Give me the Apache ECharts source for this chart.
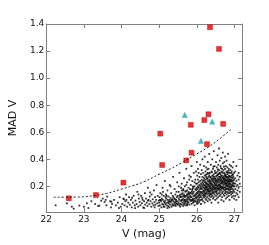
<!DOCTYPE html>
<html><head><meta charset="utf-8">
<script src="https://cdn.jsdelivr.net/npm/echarts@6/dist/echarts.min.js"></script>
<style>html,body{margin:0;padding:0;background:#fff}#c{width:269px;height:245px}</style>
</head><body><div id="c"></div>
<script>
const xTicks = [22, 23, 24, 25, 26, 27];
const yTicks = [0.2, 0.4, 0.6, 0.8, 1.0, 1.2, 1.4];

// variable candidates (red squares): [V, MAD V]
const redV   = [22.60, 23.32, 24.05, 25.03, 25.08, 25.72, 25.84, 25.86, 26.20, 26.27, 26.31, 26.35, 26.59, 26.70];
const redMAD = [0.112, 0.136, 0.228, 0.590, 0.358, 0.392, 0.655, 0.449, 0.690, 0.512, 0.733, 1.376, 1.216, 0.662];

// cyan triangles
const triV   = [25.68, 26.11, 26.41];
const triMAD = [0.730, 0.538, 0.680];

// dashed threshold curve
const curveV   = [22.2, 22.5, 22.8, 23.0, 23.3, 23.6, 24.0, 24.3, 24.6, 25.0, 25.3, 25.6, 26.0, 26.3, 26.6, 26.9];
const curveMAD = [0.120, 0.120, 0.121, 0.124, 0.133, 0.148, 0.180, 0.205, 0.235, 0.290, 0.330, 0.375, 0.440, 0.490, 0.550, 0.620];

// sparse field stars, [V, MAD V]
const fieldSparse = [
 [22.25,0.06],[22.55,0.075],[22.68,0.05],[22.73,0.035],[22.88,0.058],[23.0,0.05],[23.08,0.075],[23.12,0.04],[23.3,0.07],[23.38,0.055],
 [23.41,0.058],[23.46,0.094],[23.5,0.11],[23.55,0.085],[23.6,0.06],[23.62,0.125],[23.7,0.09],[23.73,0.087],[23.75,0.07],[23.8,0.1],
 [23.85,0.06],[23.9,0.08],[23.93,0.04],[23.95,0.12],[23.98,0.05],[23.72,0.045],[23.58,0.1],[23.2,0.09],
 [24.02,0.07],[24.05,0.11],[24.06,0.105],[24.08,0.06],[24.1,0.09],[24.12,0.14],[24.15,0.05],[24.18,0.08],[24.2,0.12],[24.22,0.065],
 [24.25,0.1],[24.27,0.045],[24.3,0.08],[24.32,0.13],[24.35,0.06],[24.37,0.095],[24.4,0.07],[24.42,0.16],[24.44,0.05],[24.46,0.11],
 [24.48,0.085],[24.5,0.06],[24.52,0.13],[24.54,0.075],[24.56,0.1],[24.58,0.045],[24.6,0.09],[24.62,0.15],[24.63,0.065],[24.65,0.11],
 [24.67,0.08],[24.69,0.055],[24.7,0.19],[24.72,0.1],[24.74,0.07],[24.75,0.125],[24.77,0.09],[24.79,0.05],[24.8,0.14],[24.82,0.075],
 [24.83,0.105],[24.85,0.06],[24.86,0.17],[24.88,0.085],[24.89,0.12],[24.9,0.065],[24.92,0.1],[24.93,0.21],[24.95,0.075],[24.96,0.13],
 [24.98,0.055],[24.99,0.095],[24.36,0.04],[24.6,0.04],[24.76,0.155],[24.88,0.045],[24.55,0.115],[24.28,0.115],[24.13,0.1],[24.45,0.14],[24.7,0.095],
 [25.0,0.08],[25.01,0.12],[25.02,0.06],[25.03,0.15],[25.05,0.09],[25.06,0.045],[25.07,0.11],[25.08,0.07],[25.09,0.19],[25.1,0.1],
 [25.11,0.065],[25.12,0.13],[25.13,0.085],[25.14,0.05],[25.15,0.24],[25.16,0.095],[25.17,0.07],[25.18,0.14],[25.19,0.11],[25.2,0.06],
 [25.21,0.08],[25.22,0.17],[25.23,0.1],[25.24,0.055],[25.25,0.125],[25.26,0.075],[25.27,0.09],[25.28,0.21],[25.29,0.065],[25.3,0.115],
 [25.31,0.085],[25.32,0.15],[25.33,0.05],[25.34,0.1],[25.35,0.07],[25.36,0.13],[25.37,0.27],[25.38,0.09],[25.39,0.06],[25.4,0.11],
 [25.41,0.18],[25.42,0.08],[25.43,0.14],[25.44,0.055],[25.45,0.1],[25.46,0.075],[25.47,0.12],[25.48,0.23],[25.49,0.09],[25.5,0.065],
 [25.04,0.1],[25.12,0.05],[25.2,0.13],[25.27,0.045],[25.33,0.095],[25.4,0.08],[25.46,0.16],[25.07,0.14],[25.17,0.12],[25.25,0.085],
 [25.35,0.105],[25.43,0.065],[25.49,0.13],[25.3,0.2],[25.1,0.16],[25.22,0.04],[25.38,0.12],[25.45,0.09],[25.02,0.1],[25.28,0.1],
 [25.15,0.08],[25.36,0.06],[25.42,0.105],[25.48,0.07]
];

// denser field stars, by V column: [V, [MAD V values]]
const fieldColumns = [
 [25.52,[0.11,0.08,0.16,0.2]],[25.54,[0.06,0.13,0.1,0.3]],[25.56,[0.07,0.14,0.12,0.05]],[25.58,[0.09,0.19,0.12]],
 [25.60,[0.065,0.22,0.1,0.17,0.14]],[25.62,[0.15,0.08,0.125,0.1]],[25.64,[0.055,0.18,0.11,0.17]],[25.66,[0.09,0.26,0.14,0.13,0.07]],
 [25.68,[0.075,0.2,0.12,0.1]],[25.70,[0.1,0.16,0.06,0.085,0.13,0.165]],[25.72,[0.13,0.33,0.09,0.21]],[25.74,[0.17,0.11,0.07,0.23,0.14,0.06]],
 [25.76,[0.14,0.1,0.085,0.12]],[25.78,[0.19,0.12,0.08,0.16,0.15]],[25.80,[0.28,0.11,0.065,0.14,0.25]],[25.82,[0.18,0.13,0.1,0.15]],
 [25.84,[0.09,0.21,0.15,0.12,0.27]],[25.86,[0.1,0.35,0.12,0.07,0.16]],[25.88,[0.17,0.14,0.24,0.18,0.095]],[25.90,[0.1,0.19,0.08,0.11,0.15,0.2]],
 [25.92,[0.13,0.3,0.16,0.085]],[25.94,[0.11,0.06,0.2,0.13,0.095,0.23]],[25.96,[0.14,0.25,0.09,0.18]],[25.98,[0.17,0.12,0.22,0.11,0.14,0.31]],
 [26.00,[0.15,0.08,0.38,0.19]],
 [26.01,[0.09,0.15,0.22,0.12,0.28,0.18,0.07]],[26.03,[0.13,0.2,0.1,0.25,0.16,0.33]],[26.05,[0.08,0.14,0.19,0.23,0.11,0.3,0.17]],
 [26.07,[0.12,0.21,0.16,0.09,0.27,0.14]],[26.09,[0.18,0.1,0.24,0.13,0.36,0.2,0.15]],[26.11,[0.07,0.16,0.22,0.12,0.29,0.19]],
 [26.13,[0.14,0.25,0.1,0.18,0.32,0.21,0.16]],[26.15,[0.11,0.2,0.27,0.15,0.4,0.23]],[26.17,[0.13,0.17,0.24,0.09,0.3,0.19,0.22]],
 [26.19,[0.16,0.12,0.26,0.21,0.35,0.14]],[26.21,[0.08,0.19,0.23,0.15,0.28,0.18,0.42]],[26.23,[0.13,0.25,0.17,0.21,0.11,0.31]],
 [26.25,[0.15,0.2,0.27,0.1,0.23,0.18,0.34]],[26.27,[0.12,0.22,0.16,0.29,0.19,0.26]],[26.29,[0.17,0.14,0.24,0.2,0.38,0.09,0.3]],
 [26.31,[0.11,0.21,0.18,0.27,0.15,0.33]],[26.33,[0.19,0.13,0.25,0.22,0.16,0.44,0.28]],[26.35,[0.14,0.2,0.3,0.17,0.24,0.1]],
 [26.37,[0.16,0.23,0.12,0.27,0.19,0.36,0.21]],[26.39,[0.18,0.25,0.14,0.31,0.22,0.08]],[26.41,[0.13,0.2,0.28,0.17,0.24,0.4,0.15]],
 [26.43,[0.21,0.16,0.26,0.11,0.33,0.19]],[26.45,[0.15,0.23,0.29,0.18,0.12,0.25,0.46]],[26.47,[0.2,0.14,0.27,0.22,0.35,0.17]],
 [26.49,[0.16,0.24,0.19,0.3,0.1,0.26,0.21]],
 [26.51,[0.18,0.25,0.13,0.3,0.21,0.38,0.16]],[26.53,[0.22,0.15,0.28,0.19,0.11,0.34,0.24]],[26.55,[0.17,0.26,0.2,0.31,0.14,0.23,0.43]],
 [26.57,[0.21,0.12,0.29,0.18,0.25,0.36,0.08]],[26.59,[0.19,0.27,0.15,0.23,0.32,0.2,0.48]],[26.61,[0.24,0.16,0.3,0.21,0.13,0.27,0.39]],
 [26.63,[0.18,0.26,0.22,0.35,0.14,0.29,0.2]],[26.65,[0.23,0.17,0.31,0.25,0.1,0.41,0.19]],[26.67,[0.2,0.28,0.15,0.24,0.33,0.22,0.12]],
 [26.69,[0.26,0.19,0.3,0.16,0.37,0.23,0.45]],[26.71,[0.21,0.14,0.27,0.32,0.18,0.25,0.09]],[26.73,[0.24,0.3,0.17,0.22,0.38,0.13,0.28]],
 [26.75,[0.19,0.26,0.33,0.15,0.23,0.29,0.42]],[26.77,[0.22,0.16,0.28,0.35,0.2,0.11,0.25]],[26.79,[0.27,0.18,0.31,0.24,0.14,0.39,0.21]],
 [26.81,[0.2,0.29,0.16,0.25,0.34,0.12,0.23]],[26.83,[0.24,0.18,0.3,0.21,0.44,0.15,0.27]],[26.85,[0.17,0.26,0.22,0.33,0.13,0.28,0.19]],
 [26.87,[0.23,0.3,0.15,0.25,0.36,0.2,0.1]],[26.89,[0.19,0.27,0.22,0.16,0.32,0.24]],[26.91,[0.25,0.14,0.3,0.2,0.35,0.18]],
 [26.93,[0.21,0.28,0.16,0.24,0.12,0.31]],[26.95,[0.18,0.26,0.22,0.34,0.15,0.29]],[26.97,[0.23,0.13,0.27,0.2,0.38,0.17]],
 [26.99,[0.2,0.3,0.16,0.25,0.11,0.22]],
 [27.02,[0.18,0.26,0.13,0.31,0.22]],[27.05,[0.15,0.24,0.2,0.35,0.1]],[27.08,[0.21,0.28,0.14,0.17]],
 [27.11,[0.19,0.25,0.12,0.3]],[27.14,[0.16,0.22,0.27]]
];

// extra stars in the dense core of the cloud
const fieldCore = [
 [26.20,[0.165,0.245,0.205,0.135]],[26.24,[0.195,0.285,0.145,0.225]],[26.28,[0.175,0.255,0.215,0.325]],
 [26.32,[0.235,0.165,0.295,0.205]],[26.36,[0.185,0.265,0.225,0.145]],[26.40,[0.215,0.305,0.175,0.255]],
 [26.44,[0.235,0.195,0.275,0.345]],[26.48,[0.185,0.255,0.315,0.225]],[26.52,[0.205,0.275,0.235,0.165]],
 [26.56,[0.245,0.185,0.325,0.285]],[26.60,[0.215,0.255,0.295,0.175]],[26.64,[0.245,0.335,0.195,0.275]],
 [26.68,[0.225,0.265,0.185,0.305]],[26.72,[0.255,0.195,0.345,0.235]],[26.76,[0.215,0.275,0.245,0.175]],
 [26.80,[0.225,0.305,0.265,0.185]],[26.84,[0.255,0.205,0.235,0.315]],[26.88,[0.215,0.275,0.175,0.245]],
 [26.92,[0.235,0.195,0.265]],[26.96,[0.205,0.245,0.285]]
];

const fieldData = fieldSparse
  .concat(fieldColumns.flatMap(c => c[1].map(m => [c[0], m])))
  .concat(fieldCore.flatMap(c => c[1].map(m => [c[0], m])));
const zip = (a, b) => a.map((v, i) => [v, b[i]]);

const frame = '#808080';
const tickStyle = {show: true, inside: true, length: 4, lineStyle: {color: frame, width: 1}};
const font = 'DejaVu Sans';

const chart = echarts.init(document.getElementById('c'), null, {renderer: 'canvas'});
chart.setOption({
  animation: false,
  backgroundColor: '#fff',
  grid: {left: 34, right: 27, top: 24, bottom: 25},
  xAxis: [
    {type: 'value', min: 22, max: 27.2, position: 'bottom',
     name: 'V (mag)', nameLocation: 'middle', nameGap: 14,
     nameTextStyle: {fontFamily: font, fontSize: 11, color: '#111'},
     axisLine: {show: true, onZero: false, lineStyle: {color: frame, width: 1}},
     axisTick: Object.assign({customValues: xTicks}, tickStyle),
     axisLabel: {customValues: xTicks, fontFamily: font, fontSize: 9, color: '#111', margin: 3},
     splitLine: {show: false}},
    {type: 'value', min: 22, max: 27.2, position: 'top',
     axisLine: {show: true, onZero: false, lineStyle: {color: frame, width: 1}},
     axisTick: Object.assign({customValues: xTicks}, tickStyle),
     axisLabel: {show: false}, splitLine: {show: false}}
  ],
  yAxis: [
    {type: 'value', min: 0.01, max: 1.4, position: 'left',
     name: 'MAD V', nameLocation: 'middle', nameGap: 15, nameRotate: 90,
     nameTextStyle: {fontFamily: font, fontSize: 11, color: '#111'},
     axisLine: {show: true, onZero: false, lineStyle: {color: frame, width: 1}},
     axisTick: Object.assign({customValues: yTicks}, tickStyle),
     axisLabel: {customValues: yTicks, formatter: v => v.toFixed(1), fontFamily: font, fontSize: 9, color: '#111', margin: 2},
     splitLine: {show: false}},
    {type: 'value', min: 0.01, max: 1.4, position: 'right',
     axisLine: {show: true, onZero: false, lineStyle: {color: frame, width: 1}},
     axisTick: Object.assign({customValues: yTicks}, tickStyle),
     axisLabel: {show: false}, splitLine: {show: false}}
  ],
  series: [
    {type: 'scatter', data: fieldData, symbol: 'rect', symbolSize: 1.8, silent: true,
     itemStyle: {color: '#000'}},
    {type: 'line', data: zip(curveV, curveMAD), smooth: true, symbol: 'none', silent: true,
     lineStyle: {color: '#222', width: 1, type: [2, 2]}},
    {type: 'scatter', data: zip(redV, redMAD), symbol: 'rect', symbolSize: 5,
     itemStyle: {color: '#e00000', borderColor: '#c00000', borderWidth: 0.5}},
    {type: 'scatter', data: zip(triV, triMAD), symbol: 'triangle', symbolSize: 6,
     itemStyle: {color: '#1ea3a6'}}
  ]
});
</script></body></html>
